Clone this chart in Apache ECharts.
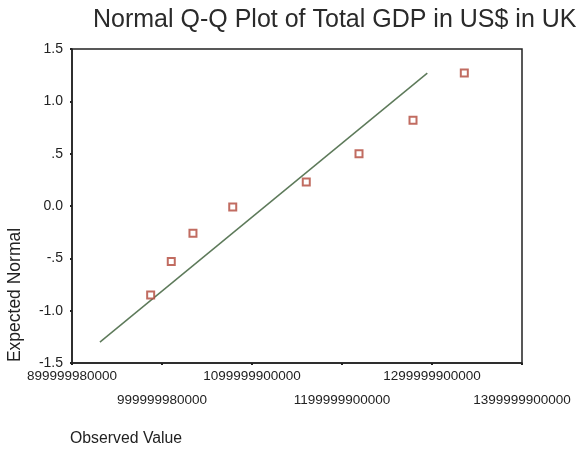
<!DOCTYPE html>
<html>
<head>
<meta charset="utf-8">
<script src="https://cdn.jsdelivr.net/npm/echarts@6/dist/echarts.min.js"></script>
<style>
  html, body { margin: 0; padding: 0; background: #fff; }
  #chart { width: 580px; height: 451px; }
</style>
</head>
<body>
<div id="chart"></div>
<script>
// observed GDP values (US$) and expected normal scores
var observed = [987.4e9, 1010.3e9, 1034.4e9, 1078.6e9, 1160.3e9, 1218.9e9, 1278.9e9, 1335.9e9];
var expected = [-0.85, -0.53, -0.26, -0.01, 0.23, 0.50, 0.82, 1.27];
// reference line end points
var lineX = [931e9, 1294.8e9];
var lineY = [-1.30, 1.27];
// SPSS style tick labels
var xTickLabels = ['899999980000', '999999980000', '1099999900000', '1199999900000', '1299999900000', '1399999900000'];
var yTickLabels = ['-1.5', '-1.0', '-.5', '0.0', '.5', '1.0', '1.5'];

var chart = echarts.init(document.getElementById('chart'));

var points = observed.map(function (v, i) { return [v, expected[i]]; });
var linePts = lineX.map(function (v, i) { return [v, lineY[i]]; });

// labels alternate between two rows: even ticks on row 1, odd ticks on row 2
function xLabels(row) {
  return function (v) {
    var k = Math.round((v - 900e9) / 100e9);
    return k % 2 === row ? xTickLabels[k] : '';
  };
}
var xLabelFont = { color: '#222', fontFamily: 'Liberation Sans', fontSize: 13.5 };

chart.setOption({
  animation: false,
  title: {
    text: 'Normal Q-Q Plot of Total GDP in US$ in UK',
    left: 88,
    top: 3,
    textStyle: { fontFamily: 'Liberation Sans', fontWeight: 'normal', fontSize: 25, color: '#2a2a2a' }
  },
  grid: {
    left: 72, right: 58, top: 49, bottom: 88,
    show: true, borderColor: '#222', borderWidth: 1.5
  },
  xAxis: [
    {
      type: 'value',
      min: 900e9, max: 1400e9, interval: 100e9,
      splitLine: { show: false },
      axisLine: { onZero: false, lineStyle: { color: '#222', width: 1.5 } },
      axisTick: { show: true, length: 2, lineStyle: { color: '#222', width: 2 } },
      axisLabel: Object.assign({
        margin: 6, interval: 0, showMinLabel: true, showMaxLabel: true, hideOverlap: false,
        formatter: xLabels(0)
      }, xLabelFont)
    },
    {
      type: 'value', position: 'bottom',
      min: 900e9, max: 1400e9, interval: 100e9,
      splitLine: { show: false },
      axisLine: { show: false, onZero: false },
      axisTick: { show: false },
      axisLabel: Object.assign({
        margin: 30, interval: 0, showMinLabel: true, showMaxLabel: true, hideOverlap: false,
        formatter: xLabels(1)
      }, xLabelFont)
    }
  ],
  yAxis: {
    type: 'value',
    min: -1.5, max: 1.5, interval: 0.5,
    splitLine: { show: false },
    axisLine: { onZero: false, lineStyle: { color: '#222', width: 1.5 } },
    axisTick: { show: true, length: 2, lineStyle: { color: '#222', width: 2 } },
    axisLabel: {
      color: '#222', fontFamily: 'Liberation Sans', fontSize: 14, margin: 9,
      interval: 0, showMinLabel: true, showMaxLabel: true,
      formatter: function (v) {
        return yTickLabels[Math.round((v + 1.5) / 0.5)];
      }
    }
  },
  graphic: [
    {
      type: 'text', x: 15, y: 295, rotation: Math.PI / 2,
      style: {
        text: 'Expected Normal', fontFamily: 'Liberation Sans', fontSize: 17.5, fill: '#222',
        align: 'center', verticalAlign: 'middle'
      }
    },
    {
      type: 'text', left: 70, top: 431,
      style: { text: 'Observed Value', fontFamily: 'Liberation Sans', fontSize: 15.8, fill: '#222' }
    }
  ],
  series: [
    {
      type: 'line',
      xAxisIndex: 0,
      data: linePts,
      symbol: 'none',
      lineStyle: { color: '#5d7a5a', width: 1.5 },
      z: 2
    },
    {
      type: 'scatter',
      xAxisIndex: 0,
      data: points,
      symbol: 'rect',
      symbolSize: 7,
      itemStyle: { color: '#fff', borderColor: '#b2473a', borderWidth: 2 },
      z: 3
    }
  ]
});
</script>
</body>
</html>
